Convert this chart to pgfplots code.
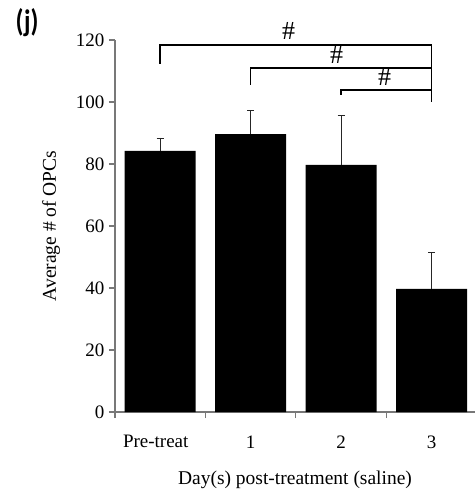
\documentclass[border=0pt]{standalone}
\usepackage{pgfplots}
\pgfplotsset{compat=1.18}
\usepackage{fontspec}
\setmainfont{Liberation Serif}
\newfontfamily\panelfont{Carlito}
\definecolor{axisgray}{RGB}{120,120,120}

\begin{document}
\begin{tikzpicture}[x=1pt,y=1pt]
\begin{axis}[
  at={(0,0)}, anchor=south west,
  scale only axis,
  width=360pt, height=372pt,
  xmin=-0.5, xmax=3.48,
  ymin=0, ymax=120,
  clip=false,
  axis x line*=bottom,
  axis y line*=left,
  axis line style={draw=axisgray, line width=1.1pt},
  ytick={0,20,...,120},
  xtick={0,1,2,3},
  xticklabels={Pre-treat\hspace*{9pt},1,2,3},
  minor xtick={-0.5,0.5,1.5,2.5},
  major x tick style={draw=none},
  minor x tick style={draw=axisgray, line width=1.1pt},
  major y tick style={draw=axisgray, line width=1.1pt},
  tick align=outside,
  major tick length=6pt,
  minor tick length=6pt,
  /pgf/number format/assume math mode=true,
  tick label style={font=\fontsize{19}{23}\selectfont},
  label style={font=\fontsize{19.5}{23}\selectfont},
  xlabel={Day(s) post-treatment (saline)},
  ylabel={Average \# of OPCs},
  ylabel shift=9pt,
  xlabel shift=16pt,
  yticklabel style={xshift=-1pt},
  xticklabel style={yshift=-14pt},
]
\addplot[ybar, bar width=0.785, fill=black, draw=none,
  error bars/.cd, y dir=plus, y explicit,
  error bar style={line width=0.9pt, draw=black!85},
  error mark options={rotate=90, mark size=3.5pt, line width=0.9pt, draw=black!85}]
  coordinates {
    (0,84.2) +- (0,4.2)
    (1,89.6) +- (0,7.8)
    (2,79.7) +- (0,16.1)
    (3,39.7) +- (0,11.9)
  };

% significance brackets against day 3
\draw[line width=1.6pt] (axis cs:0,112.3) -- (axis cs:0,118.4) -- (axis cs:3,118.4) -- (axis cs:3,100.1);
\draw[line width=1.6pt] (axis cs:1,105.5) -- (axis cs:1,110.9) -- (axis cs:3,110.9);
\draw[line width=1.6pt] (axis cs:2,102.3) -- (axis cs:2,103.9) -- (axis cs:3,103.9);
\node[font=\fontsize{26}{28}\selectfont, inner sep=0pt] at (axis cs:1.42,122.8) {\#};
\node[font=\fontsize{26}{28}\selectfont, inner sep=0pt] at (axis cs:1.95,115.2) {\#};
\node[font=\fontsize{26}{28}\selectfont, inner sep=0pt] at (axis cs:2.48,108.0) {\#};
\end{axis}
\node[font=\panelfont\bfseries\fontsize{31}{34}\selectfont, inner sep=0pt, xscale=0.82] at (-88,389) {(j)};
\pgfresetboundingbox
\path (-115,-77) rectangle (360,412);
\end{tikzpicture}
\end{document}
